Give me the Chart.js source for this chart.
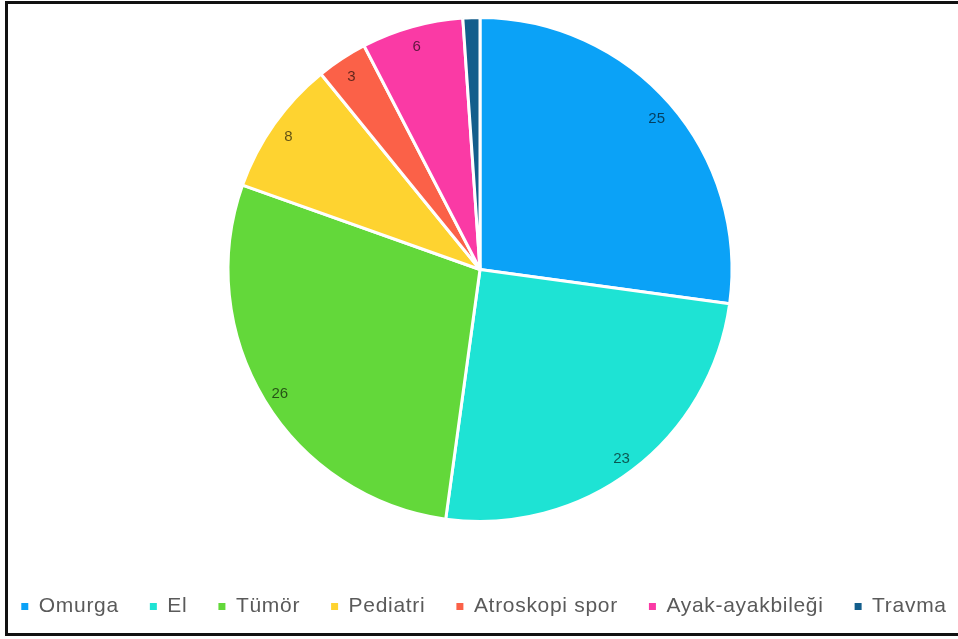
<!DOCTYPE html>
<html>
<head>
<meta charset="utf-8">
<script src="https://cdn.jsdelivr.net/npm/chart.js@4.4.1/dist/chart.umd.min.js"></script>
<style>
  html, body { margin: 0; padding: 0; background: #fff; overflow: hidden; }
  #wrap { position: relative; width: 958px; height: 639px; overflow: hidden; }
  #frame {
    position: absolute; left: 5px; top: 1px; width: 1000px; height: 629px;
    border: 3px solid #111; border-right: none; pointer-events: none;
  }
  canvas { position: absolute; left: 1px; top: 0; }
</style>
</head>
<body>
<div id="wrap">
  <canvas id="myChart" width="958" height="639"></canvas>
  <div id="frame"></div>
</div>
<script>
const categories = ['Omurga', 'El', 'Tümör', 'Pediatri', 'Atroskopi spor', 'Ayak-ayakbileği', 'Travma'];
const counts = [25, 23, 26, 8, 3, 6, 1];
const sliceColors = ['#0ba2f7', '#1ee3d4', '#63d83a', '#fed330', '#fb6148', '#fa3aa5', '#135e8c'];

const fontFamily = '"Helvetica Neue", Helvetica, "Liberation Sans", Arial, sans-serif';

// legend text in the original is spaced a little wider
const wideText = {
    id: 'wideText',
    beforeLayout(chart) { chart.ctx.letterSpacing = '0.7px'; },
    beforeDraw(chart) { chart.ctx.letterSpacing = '0.7px'; }
};

// numbers drawn inside the slices, near the rim
const sliceLabels = {
    id: 'sliceLabels',
    afterDatasetsDraw(chart) {
        const ctx = chart.ctx;
        const meta = chart.getDatasetMeta(0);
        ctx.save();
        ctx.letterSpacing = '0px';
        ctx.font = '15px ' + fontFamily;
        ctx.fillStyle = 'rgba(0,0,0,0.62)';
        ctx.textAlign = 'center';
        ctx.textBaseline = 'middle';
        meta.data.forEach(function (arc, i) {
            const v = counts[i];
            if (v < 2) return;
            const p = arc.getProps(['x', 'y', 'startAngle', 'endAngle', 'outerRadius'], true);
            const mid = (p.startAngle + p.endAngle) / 2;
            const r = p.outerRadius * 0.93;
            ctx.fillText(String(v), p.x + Math.cos(mid) * r, p.y + Math.sin(mid) * r + 3);
        });
        ctx.restore();
    }
};

document.addEventListener("DOMContentLoaded", function () {
    const ctx = document.getElementById('myChart');
    new Chart(ctx, {
        type: 'pie',
        data: {
            labels: categories,
            datasets: [{
                data: counts,
                backgroundColor: sliceColors,
                borderColor: '#ffffff',
                borderWidth: 3
            }]
        },
        options: {
            responsive: false,
            devicePixelRatio: 1,
            animation: false,
            radius: 252,
            layout: { padding: { top: 0, left: -24, right: -32, bottom: 12 } },
            plugins: {
                tooltip: { enabled: false },
                legend: {
                    position: 'bottom',
                    title: {
                        display: true,
                        text: '',
                        font: { size: 10, lineHeight: 1 },
                        padding: { top: 16, bottom: 0 }
                    },
                    labels: {
                        boxWidth: 7,
                        boxHeight: 7,
                        padding: 31,
                        color: '#5a5a5a',
                        font: { size: 21, family: fontFamily },
                        generateLabels(chart) {
                            const items = Chart.overrides.pie.plugins.legend.labels.generateLabels(chart);
                            items.forEach(function (it) {
                                it.lineWidth = 0;
                                it.strokeStyle = it.fillStyle;
                            });
                            return items;
                        }
                    }
                }
            }
        },
        plugins: [wideText, sliceLabels]
    });
});
</script>
</body>
</html>
